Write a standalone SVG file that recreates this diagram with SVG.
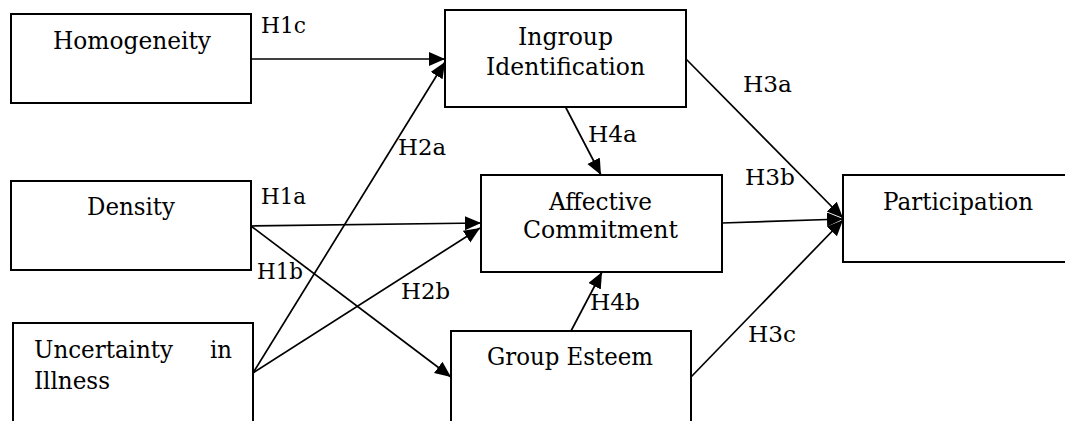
<svg xmlns="http://www.w3.org/2000/svg" width="1065" height="421" viewBox="0 0 1065 421">
<style>
.box{fill:#fff;stroke:#000;stroke-width:2}
.t{font-family:"DejaVu Serif","Liberation Serif",serif;font-size:24px;fill:#000}
.lbl{font-family:"DejaVu Serif","Liberation Serif",serif;font-size:23px;fill:#000}
.c{stroke:#000;stroke-width:1.7;fill:none;marker-end:url(#ah)}
</style>
<defs>
<marker id="ah" markerUnits="userSpaceOnUse" markerWidth="17" markerHeight="15" refX="16" refY="7" orient="auto">
<path d="M0,0 L16,7 L0,14 z" fill="#000"/>
</marker>
</defs>
<rect width="1065" height="421" fill="#fff"/>
<g id="connectors">
<line class="c" x1="251" y1="59" x2="445" y2="59"/>
<line class="c" x1="253" y1="373" x2="445" y2="62"/>
<line class="c" x1="251" y1="226" x2="481" y2="223"/>
<line class="c" x1="253" y1="373" x2="480" y2="228"/>
<line class="c" x1="251" y1="226" x2="451" y2="377"/>
<line class="c" x1="565" y1="106" x2="601" y2="175"/>
<line class="c" x1="571" y1="331" x2="602" y2="272"/>
<line class="c" x1="686" y1="59" x2="843" y2="218"/>
<line class="c" x1="722" y1="223" x2="843" y2="219"/>
<line class="c" x1="691" y1="377" x2="843" y2="220"/>
<text class="lbl" x="261" y="33" textLength="45" lengthAdjust="spacingAndGlyphs">H1c</text>
<text class="lbl" x="398" y="155" textLength="48" lengthAdjust="spacingAndGlyphs">H2a</text>
<text class="lbl" x="261" y="204" textLength="45" lengthAdjust="spacingAndGlyphs">H1a</text>
<text class="lbl" x="257" y="279" textLength="46" lengthAdjust="spacingAndGlyphs">H1b</text>
<text class="lbl" x="401" y="299" textLength="49" lengthAdjust="spacingAndGlyphs">H2b</text>
<text class="lbl" x="588" y="142" textLength="49" lengthAdjust="spacingAndGlyphs">H4a</text>
<text class="lbl" x="590" y="310" textLength="50" lengthAdjust="spacingAndGlyphs">H4b</text>
<text class="lbl" x="743" y="92" textLength="49" lengthAdjust="spacingAndGlyphs">H3a</text>
<text class="lbl" x="745" y="185" textLength="50" lengthAdjust="spacingAndGlyphs">H3b</text>
<text class="lbl" x="748" y="342" textLength="48" lengthAdjust="spacingAndGlyphs">H3c</text>
</g>
<g id="homogeneity">
<rect class="box" x="11" y="14" width="240" height="89"/>
<text class="t" x="53" y="49" textLength="158" lengthAdjust="spacingAndGlyphs">Homogeneity</text>
</g>
<g id="density">
<rect class="box" x="11" y="181" width="240" height="89"/>
<text class="t" x="87" y="215" textLength="88" lengthAdjust="spacingAndGlyphs">Density</text>
</g>
<g id="uncertainty">
<rect class="box" x="13" y="323" width="240" height="110"/>
<text class="t" x="34" y="358" textLength="139" lengthAdjust="spacingAndGlyphs">Uncertainty</text>
<text class="t" x="210" y="358" textLength="22" lengthAdjust="spacingAndGlyphs">in</text>
<text class="t" x="34" y="389" textLength="76" lengthAdjust="spacingAndGlyphs">Illness</text>
</g>
<g id="ingroup">
<rect class="box" x="445" y="10" width="241" height="97"/>
<text class="t" x="518" y="45" textLength="95" lengthAdjust="spacingAndGlyphs">Ingroup</text>
<text class="t" x="486" y="75" textLength="159" lengthAdjust="spacingAndGlyphs">Identification</text>
</g>
<g id="affective">
<rect class="box" x="481" y="175" width="241" height="97"/>
<text class="t" x="549" y="210" textLength="103" lengthAdjust="spacingAndGlyphs">Affective</text>
<text class="t" x="523" y="238" textLength="155" lengthAdjust="spacingAndGlyphs">Commitment</text>
</g>
<g id="groupesteem">
<rect class="box" x="451" y="331" width="240" height="110"/>
<text class="t" x="487" y="365" textLength="166" lengthAdjust="spacingAndGlyphs">Group Esteem</text>
</g>
<g id="participation">
<rect class="box" x="843" y="175" width="240" height="87"/>
<text class="t" x="883" y="210" textLength="150" lengthAdjust="spacingAndGlyphs">Participation</text>
</g>
</svg>
